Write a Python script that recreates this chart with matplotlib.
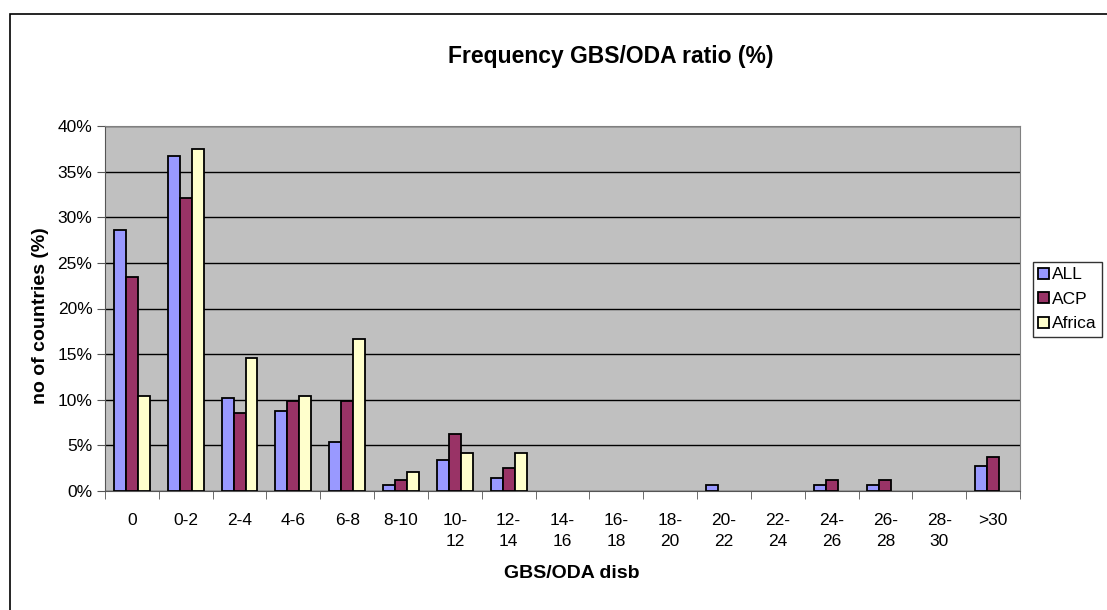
import numpy as np
import matplotlib
matplotlib.use("Agg")
import matplotlib.pyplot as plt
from matplotlib.patches import Rectangle
from matplotlib.ticker import FuncFormatter

plt.rcParams['font.family'] = ['Liberation Sans', 'DejaVu Sans']

categories = ['0', '0-2', '2-4', '4-6', '6-8', '8-10', '10-\n12', '12-\n14', '14-\n16',
              '16-\n18', '18-\n20', '20-\n22', '22-\n24', '24-\n26', '26-\n28', '28-\n30', '>30']
all_pct = [28.6, 36.7, 10.2, 8.8, 5.4, 0.7, 3.4, 1.4, 0, 0, 0, 0.7, 0, 0.7, 0.7, 0, 2.7]
acp_pct = [23.5, 32.1, 8.6, 9.9, 9.9, 1.2, 6.2, 2.5, 0, 0, 0, 0, 0, 1.2, 1.2, 0, 3.7]
africa_pct = [10.4, 37.5, 14.6, 10.4, 16.7, 2.1, 4.2, 4.2, 0, 0, 0, 0, 0, 0, 0, 0, 0]
series_names = ['ALL', 'ACP', 'Africa']
series_colors = ['#9999ff', '#993366', '#ffffcc']

W, H = 1107, 610
fig = plt.figure(figsize=(W / 100, H / 100), dpi=100)
fig.patch.set_facecolor('white')

# outer chart border (right and bottom edges fall outside the picture)
fig.add_artist(Rectangle((10 / W, -0.05), 1.2, 1 - 14 / H + 0.05, transform=fig.transFigure,
                         fill=False, edgecolor='black', linewidth=1.2))

ax = fig.add_axes([105 / W, 1 - 491 / H, (1020 - 105) / W, (491 - 126) / H])
ax.set_facecolor('#c0c0c0')

x = np.arange(len(categories))
bw = 1 / 4.5
for i, (vals, name, col) in enumerate(zip([all_pct, acp_pct, africa_pct], series_names, series_colors)):
    vals = np.array(vals)
    keep = vals > 0  # Excel draws nothing for empty bins
    ax.bar(x[keep] + (i - 1) * bw, vals[keep] / 100, width=bw, color=col, edgecolor='black',
           linewidth=1.3, label=name, zorder=3)

ax.set_xlim(-0.5, len(categories) - 0.5)
ax.set_ylim(0, 0.40)
ax.set_yticks(np.arange(0, 0.41, 0.05))
ax.yaxis.set_major_formatter(FuncFormatter(lambda v, p: f"{v * 100:.0f}%"))
ax.grid(axis='y', color='black', linewidth=1, zorder=1)
ax.set_axisbelow(True)

ax.set_xticks(x)
ax.set_xticklabels(categories, fontsize=12.5, linespacing=1.45, va='top')
ax.set_xticks(np.arange(-0.5, len(categories), 1), minor=True)
ax.tick_params(axis='x', which='major', length=0, pad=16)
ax.tick_params(axis='x', which='minor', length=6, direction='out', color='#555555')
ax.tick_params(axis='y', length=6, direction='out', labelsize=12.5, pad=3, color='#555555')

for s in ['top', 'right']:
    ax.spines[s].set_color('#808080')
ax.spines['left'].set_color('#555555')
ax.spines['bottom'].set_color('#555555')

fig.text(41 / W, 1 - 316 / H, 'no of countries (%)', rotation=90, ha='center', va='center',
         fontsize=14, fontweight='bold')
fig.text(572 / W, 1 - 574 / H, 'GBS/ODA disb', ha='center', va='center',
         fontsize=14, fontweight='bold')
fig.text(611 / W, 1 - 56 / H, 'Frequency GBS/ODA ratio (%)', ha='center', va='center',
         fontsize=16.5, fontweight='bold')

leg = ax.legend(loc='upper left', bbox_to_anchor=(1033 / W, 1 - 262 / H), bbox_transform=fig.transFigure,
                frameon=True, fancybox=False, edgecolor='black', fontsize=12.5, handlelength=0.6,
                handleheight=0.6, handletextpad=0.2, borderpad=0.3, labelspacing=0.55, borderaxespad=0)
leg.get_frame().set_linewidth(1)

fig.savefig('out.png', dpi=100)
